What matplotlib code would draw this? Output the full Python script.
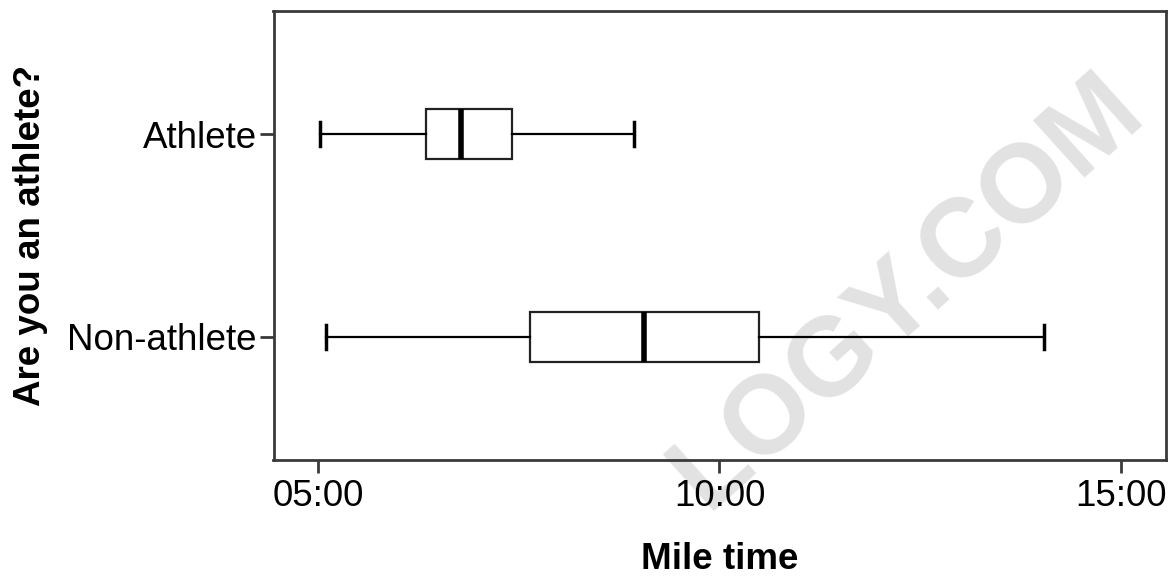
import matplotlib
matplotlib.use("Agg")
import matplotlib.pyplot as plt
from matplotlib.ticker import FuncFormatter

plt.rcParams['font.family'] = ['Liberation Sans', 'DejaVu Sans']

# Data (mile time in minutes)
groups = ["Athlete", "Non-athlete"]
whisker_low = [5.02, 5.10]
q1 = [6.34, 7.64]
median = [6.78, 9.06]
q3 = [7.42, 10.49]
whisker_high = [8.94, 14.04]
xticks = [5, 10, 15]
positions = [1, 0]

W, H = 1173, 578
fig = plt.figure(figsize=(W / 100, H / 100), dpi=100)
L, R, T, B = 273.5, 1165.7, 11, 460
ax = fig.add_axes([L / W, 1 - B / H, (R - L) / W, (B - T) / H])
ax.set_facecolor('none')

# watermark (visible part)
fig.text(1128 / W, 1 - 93 / H, "LOGY.COM", rotation=42, rotation_mode='anchor',
         ha='right', va='center', fontsize=80, fontweight='bold',
         color='#e2e2e2', zorder=-5)

stats = []
for i, g in enumerate(groups):
    stats.append(dict(label=g, whislo=whisker_low[i], q1=q1[i], med=median[i],
                      q3=q3[i], whishi=whisker_high[i], fliers=[]))

ax.bxp(stats, positions=positions, orientation='horizontal', widths=0.247,
       showfliers=False, patch_artist=True,
       boxprops=dict(facecolor='white', edgecolor='#222222', linewidth=1.6),
       medianprops=dict(color='black', linewidth=4),
       whiskerprops=dict(color='black', linewidth=1.6),
       capprops=dict(color='black', linewidth=2.5), capwidths=0.12)

ax.set_xlim(4.446, 15.557)
ax.set_ylim(-0.607, 1.607)
ax.set_xticks(xticks)
ax.xaxis.set_major_formatter(FuncFormatter(lambda v, p: f"{int(v):02d}:{int(round((v % 1) * 60)):02d}"))
ax.set_yticks(positions)
ax.set_yticklabels(groups)

for s in ax.spines.values():
    s.set_linewidth(2)
    s.set_color('#3a3a3a')

ax.tick_params(axis='x', length=9.5, width=2, color='#3a3a3a', pad=4, labelsize=26.5)
ax.tick_params(axis='y', length=10, width=2, color='#3a3a3a', pad=2, labelsize=26.5)

fig.text(719.6 / W, 0.002, "Mile time", ha='center', va='bottom',
         fontsize=26.5, fontweight='bold')
fig.text(31 / W, 1 - 235.5 / H, "Are you an athlete?", ha='center', va='center',
         rotation=90, fontsize=26.5, fontweight='bold')

fig.savefig("out.png", dpi=100)
